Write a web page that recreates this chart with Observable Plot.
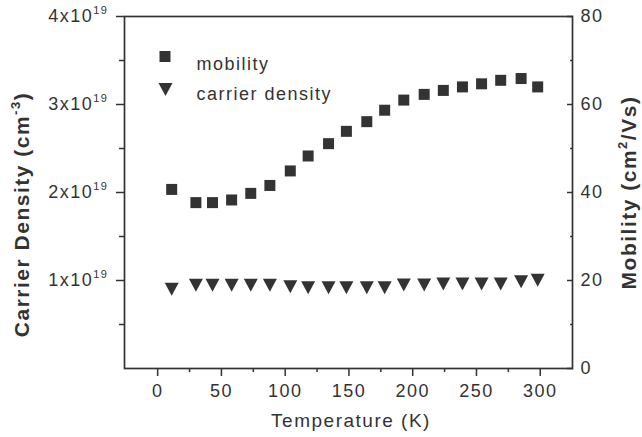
<!DOCTYPE html>
<html><head><meta charset="utf-8">
<script src="https://cdn.jsdelivr.net/npm/d3@7"></script>
<script src="https://cdn.jsdelivr.net/npm/@observablehq/plot@0.6"></script>
<style>
html,body{margin:0;padding:0;background:#fff;}
#chart svg{display:block;}
</style></head><body><div id="chart"></div>
<script>
// Data
const temperature = [11, 30, 43, 58, 73, 88, 104, 118, 134, 148, 164, 178, 193, 209, 224, 239, 254, 269, 285, 298]; // K
const mobility = [40.7, 37.7, 37.7, 38.3, 39.8, 41.6, 44.9, 48.3, 51.1, 53.9, 56.1, 58.7, 61.0, 62.3, 63.2, 64.0, 64.7, 65.5, 65.9, 64.0]; // cm^2/Vs
const carrierDensity = [0.900e19, 0.947e19, 0.947e19, 0.947e19, 0.947e19, 0.947e19, 0.930e19, 0.918e19, 0.918e19, 0.918e19, 0.918e19, 0.918e19, 0.948e19, 0.948e19, 0.960e19, 0.960e19, 0.960e19, 0.960e19, 0.986e19, 1.004e19]; // cm^-3

const densityTicks = [1e19, 2e19, 3e19, 4e19];
const densityMinorTicks = [0.5e19, 1.5e19, 2.5e19, 3.5e19];
const mobilityTicks = [0, 20, 40, 60, 80];
const mobilityMinorTicks = [10, 30, 50, 70];
const temperatureTicks = [0, 50, 100, 150, 200, 250, 300];
const temperatureMinorTicks = [25, 75, 125, 175, 225, 275];
const legendLabels = ["mobility", "carrier density"];
const xTitle = "Temperature (K)";
const yLeftTitle = "Carrier Density (cm{-3})";
const yRightTitle = "Mobility (cm{2}/Vs)";

const densityMax = 4e19, mobilityMax = 80;
const muScale = densityMax / mobilityMax; // maps mobility onto the density axis

const ink = "#333";
const squareSym = {draw(ctx) { ctx.rect(-5.5, -5.5, 11, 11); }};
const triDownSym = {draw(ctx) { ctx.moveTo(-7, -6.5); ctx.lineTo(7, -6.5); ctx.lineTo(0, 6.5); ctx.closePath(); }};

const rowsMu = temperature.map((t, i) => ({t, mu: mobility[i]}));
const rowsN = temperature.map((t, i) => ({t, n: carrierDensity[i]}));

const chart = Plot.plot({
  width: 642,
  height: 437,
  marginLeft: 124,
  marginRight: 70,
  marginTop: 16,
  marginBottom: 69,
  style: {fontFamily: "'Liberation Sans', Arial, sans-serif", fontSize: "18px", color: ink, letterSpacing: "1.5px", background: "#fff"},
  x: {domain: [-26, 325.3]},
  y: {domain: [0, densityMax]},
  marks: [
    Plot.frame({stroke: ink, strokeWidth: 1.7}),
    Plot.axisY({anchor: "left", ticks: densityTicks, tickSize: 8, tickPadding: 8, strokeWidth: 1.5,
      tickFormat: d => `${d / 1e19}x10{19}`, label: null}),
    Plot.axisY({anchor: "left", ticks: densityMinorTicks, tickSize: 5, strokeWidth: 1.5, tickFormat: () => "", label: null}),
    Plot.axisY({anchor: "right", ticks: mobilityTicks.map(m => m * muScale), tickSize: 6, insetRight: 6, strokeWidth: 1.5, tickFormat: () => "", label: null}),
    Plot.axisY({anchor: "right", ticks: mobilityMinorTicks.map(m => m * muScale), tickSize: 3, insetRight: 3, strokeWidth: 1.5, tickFormat: () => "", label: null}),
    Plot.axisY({anchor: "right", ticks: mobilityTicks.map(m => m * muScale), tickSize: 0, tickPadding: 8,
      tickFormat: d => String(Math.round(d / muScale)), label: null}),
    Plot.axisX({anchor: "bottom", ticks: temperatureTicks, tickSize: 8, tickPadding: 8, strokeWidth: 1.5, label: null}),
    Plot.axisX({anchor: "bottom", ticks: temperatureMinorTicks, tickSize: 4, strokeWidth: 1.5, tickFormat: () => "", label: null}),
    Plot.dot(rowsMu, {x: "t", y: d => d.mu * muScale, symbol: squareSym, fill: ink}),
    Plot.dot(rowsN, {x: "t", y: "n", symbol: triDownSym, fill: ink}),
    // legend
    Plot.dot([legendLabels[0]], {frameAnchor: "top-left", dx: 40.5, dy: 40, symbol: squareSym, fill: ink}),
    Plot.dot([legendLabels[1]], {frameAnchor: "top-left", dx: 41, dy: 73, symbol: triDownSym, fill: ink}),
    Plot.text([legendLabels[0]], {text: d => d, frameAnchor: "top-left", dx: 72, dy: 41, textAnchor: "start", fill: ink, fontSize: 18}),
    Plot.text([legendLabels[1]], {text: d => d, frameAnchor: "top-left", dx: 72, dy: 71, textAnchor: "start", fill: ink, fontSize: 18}),
    // axis titles
    Plot.text([xTitle], {text: d => d, frameAnchor: "bottom", textAnchor: "middle", dx: 2.5, dy: 58, fill: ink, fontSize: 19}),
    Plot.text([yLeftTitle], {text: d => d, frameAnchor: "left", textAnchor: "middle", rotate: -90, dx: -102, dy: 22, fill: ink, fontSize: 21, fontWeight: "bold"}),
    Plot.text([yRightTitle], {text: d => d, frameAnchor: "right", textAnchor: "middle", rotate: -90, dx: 57, dy: 0, fill: ink, fontSize: 21, fontWeight: "bold"})
  ]
});

// turn {..} segments into superscripts
d3.select(chart).selectAll("text").each(function() {
  const s = this.textContent;
  if (!s.includes("{")) return;
  const fs = parseFloat(this.getAttribute("font-size")) || parseFloat(this.parentNode.getAttribute("font-size")) || 18;
  const parts = s.split(/(\{[^}]*\})/).filter(p => p);
  this.textContent = "";
  const shift = Math.round(fs * 0.45);
  let up = false;
  for (const p of parts) {
    const ts = d3.select(this).append("tspan");
    if (p.startsWith("{")) {
      ts.text(p.slice(1, -1)).attr("font-size", Math.round(fs * 0.6)).attr("dy", -shift);
      up = true;
    } else {
      ts.text(p);
      if (up) { ts.attr("dy", shift); up = false; }
    }
  }
});

document.getElementById("chart").appendChild(chart);
</script>
</body></html>
